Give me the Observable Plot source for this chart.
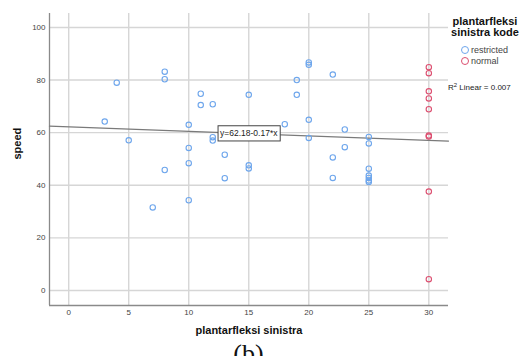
<!DOCTYPE html>
<html>
<head>
<meta charset="utf-8">
<script src="https://cdn.jsdelivr.net/npm/d3@7"></script>
<script src="https://cdn.jsdelivr.net/npm/@observablehq/plot@0.6"></script>
<style>
  html, body { margin: 0; padding: 0; background: #fff; }
  #wrap { position: relative; width: 531px; height: 356px; overflow: hidden; font-family: "Liberation Sans", Arial, sans-serif; }
  #legend { position: absolute; left: 440px; top: 16px; width: 90px; color: #222; }
  #legend .title { font-weight: bold; font-size: 11px; line-height: 10.5px; text-align: center; color: #111; }
  #legend .item { position: absolute; font-size: 9px; color: #444; white-space: nowrap; }
  #legend .sw { display: inline-block; width: 6px; height: 6px; border-radius: 50%; border: 1.3px solid; vertical-align: -1px; margin-right: 2px; }
  #r2 { position: absolute; left: 448px; top: 83px; font-size: 8px; color: #222; white-space: nowrap; }
  #r2 sup { font-size: 6px; vertical-align: 3px; line-height: 0; }
  #caption { font-family: "Liberation Serif", "Times New Roman", serif; font-size: 26px; line-height: 26px; text-align: center; width: 497px; color: #111; }
</style>
</head>
<body>
<div id="wrap">
  <div id="chart"></div>
  <div id="caption">(b)</div>
  <div id="legend"></div>
  <div id="r2"></div>
</div>
<script>
// plantarfleksi sinistra (x) vs speed, grouped by plantarfleksi sinistra kode
const restrictedX = [3, 4, 5, 7, 8, 8, 8, 10, 10, 10, 10, 11, 11, 12, 12, 12, 13, 13, 15, 15, 15, 18, 19, 19, 20, 20, 20, 20, 22, 22, 22, 23, 23, 25, 25, 25, 25, 25, 25, 25];
const restrictedSpeed = [64.2, 79, 57.1, 31.6, 83.2, 80.3, 45.8, 63, 54.2, 48.4, 34.3, 74.8, 70.5, 70.8, 58.3, 57, 51.6, 42.7, 74.4, 47.6, 46.4, 63.2, 80, 74.4, 86.7, 85.8, 64.9, 58, 82.1, 50.6, 42.8, 61.2, 54.5, 58.4, 55.9, 46.3, 43.7, 42.8, 41.8, 41.2];
const normalX = [30, 30, 30, 30, 30, 30, 30, 30, 30];
const normalSpeed = [84.9, 82.6, 75.7, 73, 68.9, 58.9, 58.5, 37.6, 4.3];

const groups = ["restricted", "normal"];
const groupColors = ["#6ea6ec", "#dc4f70"];

const xTicks = [0, 5, 10, 15, 20, 25, 30];
const yTicks = [0, 20, 40, 60, 80, 100];

// linear fit over all cases
const fitIntercept = 62.18;
const fitSlope = -0.17;
const fitR2 = 0.007;
const fitLabelAt = 15;

const xDomain = [-1.6, 31.64];
const yDomain = [-5.7, 105.3];

const points = [
  ...restrictedX.map((x, i) => ({x, speed: restrictedSpeed[i], group: groups[0]})),
  ...normalX.map((x, i) => ({x, speed: normalSpeed[i], group: groups[1]}))
];
const fitLine = xDomain.map(x => ({x, speed: fitIntercept + fitSlope * x}));
const fitText = `y=${fitIntercept.toFixed(2)}${fitSlope < 0 ? "-" : "+"}${Math.abs(fitSlope).toFixed(2)}*x`;

const chart = Plot.plot({
  width: 531,
  height: 341,
  marginLeft: 49,
  marginTop: 13,
  marginRight: 83,
  marginBottom: 36,
  style: {fontFamily: "'Liberation Sans', Arial, sans-serif", background: "transparent"},
  x: {domain: xDomain},
  y: {domain: yDomain},
  color: {domain: groups, range: groupColors},
  marks: [
    Plot.gridX(xTicks, {stroke: "#d6d6d6", strokeOpacity: 1, strokeWidth: 1.4}),
    Plot.gridY(yTicks, {stroke: "#d6d6d6", strokeOpacity: 1, strokeWidth: 1.4}),
    Plot.ruleX([xDomain[0]], {stroke: "#8a8a8a", strokeWidth: 1.3}),
    Plot.ruleY([yDomain[0]], {stroke: "#8a8a8a", strokeWidth: 1.3}),
    Plot.axisX(xTicks, {tickSize: 0, tickPadding: 4, fontSize: 8, fill: "#444", label: null}),
    Plot.axisY(yTicks, {tickSize: 0, tickPadding: 4, fontSize: 8, fill: "#444", label: null}),
    Plot.text(["plantarfleksi sinistra"], {frameAnchor: "bottom", dy: 28, fontSize: 11, fontWeight: "bold", fill: "#111"}),
    Plot.text(["speed"], {frameAnchor: "left", dx: -32, rotate: -90, fontSize: 11, fontWeight: "bold", fill: "#111"}),
    Plot.line(fitLine, {x: "x", y: "speed", stroke: "#7a7a7a", strokeWidth: 1.3}),
    Plot.dot(points, {x: "x", y: "speed", stroke: "group", r: 2.7, strokeWidth: 1.1, fill: "none"}),
    Plot.text([fitText], {x: fitLabelAt, y: fitIntercept + fitSlope * fitLabelAt, fontSize: 8.5, fill: "#222", className: "fit-label"})
  ]
});
document.getElementById("chart").append(chart);

// white box with a border behind the equation label
chart.querySelectorAll(".fit-label text").forEach(labelText => {
  const bb = labelText.getBBox();
  const rect = document.createElementNS("http://www.w3.org/2000/svg", "rect");
  const px = 2, py = 2.6;
  rect.setAttribute("x", bb.x - px);
  rect.setAttribute("y", bb.y - py);
  rect.setAttribute("width", bb.width + 2 * px);
  rect.setAttribute("height", bb.height + 2 * py);
  rect.setAttribute("fill", "#fff");
  rect.setAttribute("stroke", "#444");
  rect.setAttribute("stroke-width", "1");
  const t = labelText.getAttribute("transform");
  if (t) rect.setAttribute("transform", t);
  labelText.parentNode.insertBefore(rect, labelText);
});

// legend
const legend = document.getElementById("legend");
legend.innerHTML = `<div class="title">plantarfleksi<br>sinistra kode</div>`;
groups.forEach((name, i) => {
  const item = document.createElement("div");
  item.className = "item";
  item.style.left = "21px";
  item.style.top = `${29 + i * 11}px`;
  item.innerHTML = `<span class="sw" style="border-color:${groupColors[i]}"></span>${name}`;
  legend.append(item);
});

document.getElementById("r2").innerHTML = `R<sup>2</sup> Linear = ${fitR2}`;
</script>
</body>
</html>
